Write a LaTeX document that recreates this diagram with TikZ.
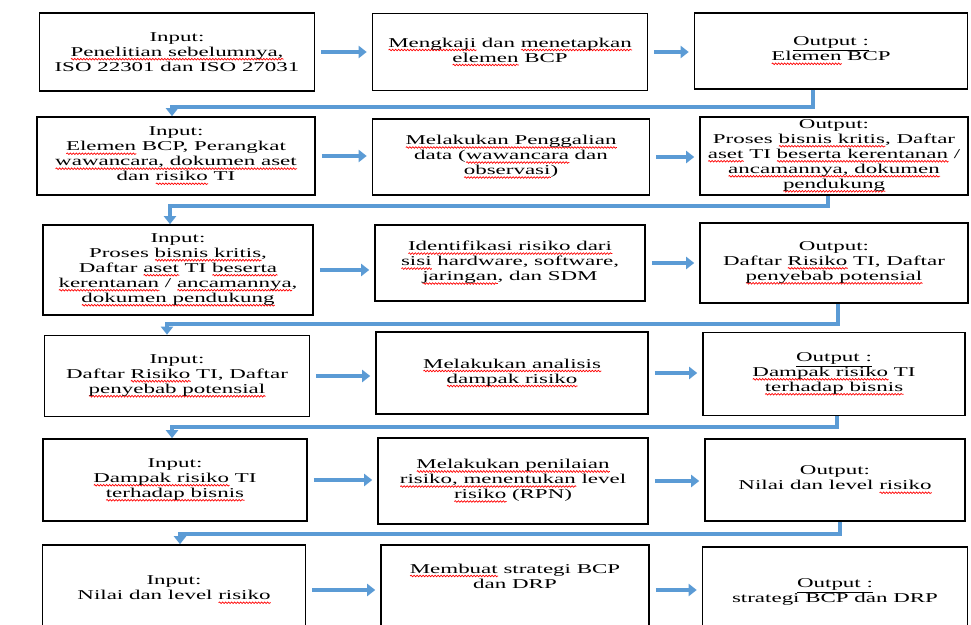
\documentclass[tikz,border=0pt]{standalone}
\usepackage{fontspec}
\setmainfont{Liberation Serif}[FakeStretch=1.7]
\usetikzlibrary{arrows.meta,decorations.pathmorphing}
\definecolor{arrblue}{RGB}{91,155,213}
\newsavebox\rwbox
\newcommand\rw[1]{\sbox\rwbox{#1}\rlap{\tikz[baseline=0pt]\draw[red,line width=.7pt,decorate,decoration={snake,amplitude=.8pt,segment length=3pt}](0pt,-2.8pt)--(\wd\rwbox,-2.8pt);}\usebox\rwbox}
\begin{document}
\begin{tikzpicture}[x=1pt,y=1pt,>={Triangle[length=8pt,width=12pt]},
box/.style={draw,line width=1.6pt,align=center,inner sep=0pt,font=\fontsize{13.5}{15}\selectfont},
arr/.style={->,arrblue,line width=3.5pt,shorten <=6pt,shorten >=5pt},
link/.style={->,arrblue,line width=4pt}]
\useasboundingbox (0,0) rectangle (971,624);
\clip (0,0) rectangle (971,624);
\node[box,minimum width=275pt,minimum height=78pt](in1)at(177,572){Input:\\\rw{Penelitian sebelumnya,}\\ISO 22301 dan ISO 27031};
\node[box,minimum width=275pt,minimum height=77pt](pr1)at(510,572){\rw{Mengkaji} dan \rw{menetapkan}\\\rw{elemen} BCP};
\node[box,minimum width=273pt,minimum height=76pt](out1)at(831,573){\underline{Output :}\\\rw{Elemen} BCP};
\node[box,minimum width=278pt,minimum height=78pt](in2)at(176,468){Input:\\\rw{Elemen} BCP, Perangkat\\\rw{wawancara, dokumen aset}\\dan \rw{risiko} TI};
\node[box,minimum width=277pt,minimum height=76pt](pr2)at(511,467){\rw{Melakukan Penggalian}\\data (\rw{wawancara} dan\\\rw{observasi})};
\node[box,minimum width=268pt,minimum height=78pt](out2)at(834,468){Output:\\Proses \rw{bisnis kritis}, Daftar\\\rw{aset} TI \rw{beserta kerentanan} /\\\rw{ancamannya, dokumen}\\\rw{pendukung}};
\node[box,minimum width=270pt,minimum height=90pt](in3)at(178,354){Input:\\Proses \rw{bisnis kritis},\\Daftar \rw{aset} TI \rw{beserta}\\\rw{kerentanan} / \rw{ancamannya},\\\rw{dokumen pendukung}};
\node[box,minimum width=270pt,minimum height=76pt](pr3)at(510,361){\rw{Identifikasi risiko dari}\\\rw{sisi} hardware, software,\\\rw{jaringan}, dan SDM};
\node[box,minimum width=268pt,minimum height=80pt](out3)at(834,361){Output:\\Daftar \rw{Risiko} TI, Daftar\\\rw{penyebab potensial}};
\node[box,minimum width=265pt,minimum height=81pt](in4)at(177,248){Input:\\Daftar \rw{Risiko} TI, Daftar\\\rw{penyebab potensial}};
\node[box,minimum width=272pt,minimum height=82pt](pr4)at(512,251){\rw{Melakukan analisis}\\\rw{dampak risiko}};
\node[box,minimum width=262pt,minimum height=83pt](out4)at(834,250){\underline{Output :}\\\rw{Dampak risiko} TI\\\rw{terhadap bisnis}};
\node[box,minimum width=264pt,minimum height=82pt](in5)at(175,144){Input:\\\rw{Dampak risiko} TI\\\rw{terhadap bisnis}};
\node[box,minimum width=270pt,minimum height=86pt](pr5)at(513,143){\rw{Melakukan penilaian}\\\rw{risiko, menentukan} level\\\rw{risiko} (RPN)};
\node[box,minimum width=260pt,minimum height=82pt](out5)at(835,144){Output:\\Nilai dan level \rw{risiko}};
\node[box,minimum width=263pt,minimum height=90pt](in6)at(174,34){Input:\\Nilai dan level \rw{risiko}};
\node[box,minimum width=268pt,minimum height=90pt,text depth=28pt](pr6)at(515,34){\rw{Membuat} strategi BCP\\dan DRP};
\node[box,minimum width=265pt,minimum height=90pt](out6)at(835,32){\underline{Output :}\\strategi BCP dan DRP};
\foreach \r in {1,...,6}{
\draw[arr](in\r.east)--(in\r.east-|pr\r.west);
\draw[arr](pr\r.east)--(pr\r.east-|out\r.west);}
\draw[link]([xshift=-18pt]out1.south)--++(0,-17)-|([xshift=-4pt]in2.north);
\draw[link]([xshift=-6pt]out2.south)--++(0,-10)-|([xshift=-8pt]in3.north);
\draw[link]([xshift=4pt]out3.south)--++(0,-20)-|([xshift=-10pt]in4.north);
\draw[link]([xshift=3pt]out4.south)--++(0,-11)-|([xshift=-3pt]in5.north);
\draw[link]([xshift=5pt]out5.south)--++(0,-12)-|([xshift=6pt]in6.north);
\end{tikzpicture}
\end{document}
